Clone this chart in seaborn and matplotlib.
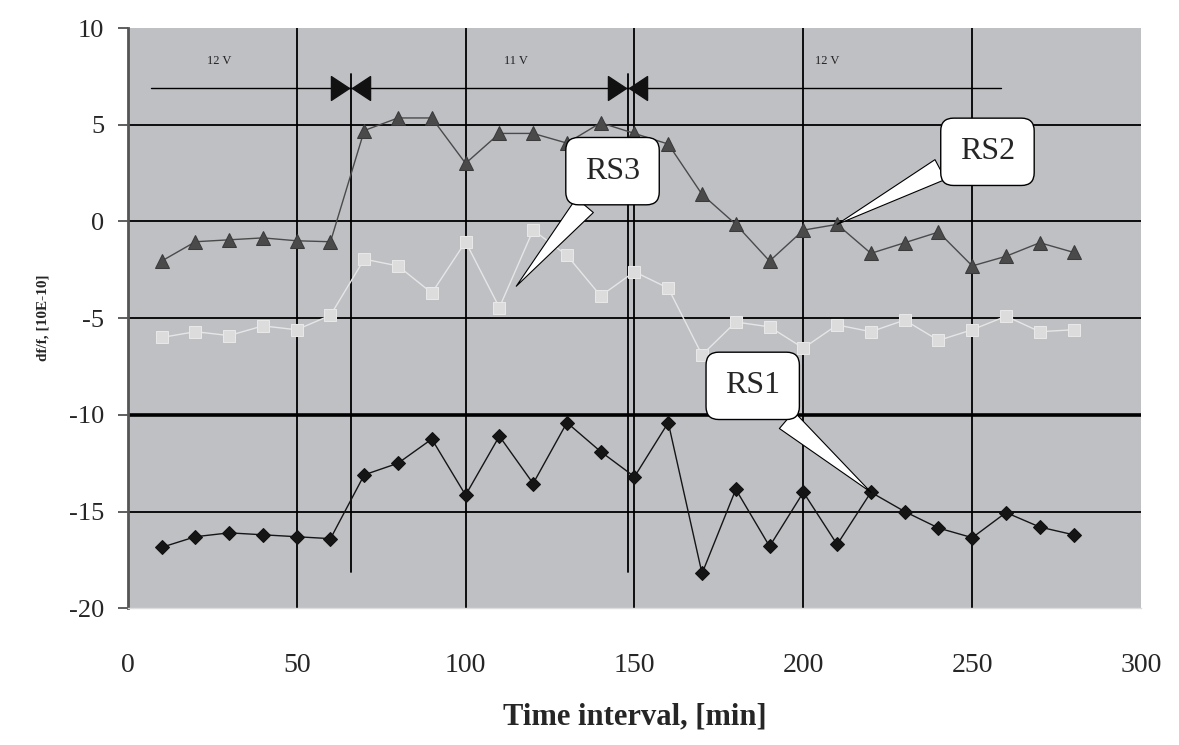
import matplotlib
matplotlib.use("Agg")
import matplotlib.pyplot as plt
import seaborn as sns
import pandas as pd

# time axis [min]
time = [10, 20, 30, 40, 50, 60, 70, 80, 90, 100, 110, 120, 130, 140,
        150, 160, 170, 180, 190, 200, 210, 220, 230, 240, 250, 260, 270, 280]

# df/f, [10E-10]
rs1 = [-16.85, -16.3, -16.1, -16.2, -16.3, -16.4, -13.1, -12.5, -11.25, -14.15,
       -11.1, -13.55, -10.4, -11.9, -13.2, -10.4, -18.2, -13.85, -16.8, -14.0,
       -16.7, -14.0, -15.0, -15.85, -16.35, -15.05, -15.8, -16.2]
rs2 = [-2.05, -1.05, -0.95, -0.85, -1.0, -1.05, 4.7, 5.35, 5.35, 3.0,
       4.55, 4.55, 4.05, 5.1, 4.55, 4.0, 1.4, -0.15, -2.05, -0.45,
       -0.15, -1.65, -1.1, -0.55, -2.3, -1.8, -1.1, -1.6]
rs3 = [-6.0, -5.7, -5.9, -5.4, -5.6, -4.85, -1.95, -2.3, -3.7, -1.05,
       -4.45, -0.45, -1.75, -3.85, -2.6, -3.45, -6.9, -5.2, -5.45, -6.55,
       -5.35, -5.7, -5.1, -6.15, -5.6, -4.9, -5.7, -5.6]

df = pd.DataFrame({"time": time, "RS1": rs1, "RS2": rs2, "RS3": rs3})

# supply voltage periods
volt_labels = ["12 V", "11 V", "12 V"]
volt_label_x = [27, 115, 207]
switch_times = [66, 148]

sns.set_theme(style="white")
plt.rcParams["font.family"] = ["Liberation Serif", "DejaVu Serif"]
plt.rcParams["axes.unicode_minus"] = False

fig = plt.figure(figsize=(11.79, 7.45), dpi=100)
ax = fig.add_axes([0.1084, 0.1835, 0.8595, 0.7789])
ax.set_facecolor("#bfc0c4")

ax.set_xlim(0, 300)
ax.set_ylim(-20, 10)

# grid
for gx in [50, 100, 150, 200, 250]:
    ax.axvline(gx, color="black", lw=1.3, zorder=1)
for gy in [5, 0, -5, -15]:
    ax.axhline(gy, color="black", lw=1.3, zorder=1)
ax.axhline(-10, color="black", lw=2.6, zorder=1)

sns.lineplot(data=df, x="time", y="RS2", ax=ax, color="#4a4a4a", lw=1.0,
             marker="^", markersize=10, markeredgecolor="#3a3a3a", zorder=4)
sns.lineplot(data=df, x="time", y="RS3", ax=ax, color="#e6e6e6", lw=1.0,
             marker="s", markersize=8, markerfacecolor="#dcdcdc",
             markeredgecolor="#e8e8e8", zorder=3)
sns.lineplot(data=df, x="time", y="RS1", ax=ax, color="#151515", lw=1.0,
             marker="D", markersize=7.5, markeredgecolor="#101010", zorder=4)

# voltage marks
ax.plot([7, 258.5], [6.9, 6.9], color="black", lw=1.0, zorder=2)
for st in switch_times:
    ax.plot([st, st], [7.6, -18.1], color="black", lw=1.3, zorder=2)
    ax.plot(st - 0.4, 6.9, marker=[(0, 0), (-1, 0.66), (-1, -0.66), (0, 0)],
            markersize=26, color="#111111", zorder=5)
    ax.plot(st + 0.4, 6.9, marker=[(0, 0), (1, 0.66), (1, -0.66), (0, 0)],
            markersize=26, color="#111111", zorder=5)
for lbl, lx in zip(volt_labels, volt_label_x):
    ax.text(lx, 8.3, lbl, fontsize=9, ha="center", va="center", color="#222222")

# callouts
def callout(text, tip, box_xy, relpos):
    ax.annotate(text, xy=tip, xytext=box_xy, textcoords="data",
                fontsize=23, ha="center", va="center", zorder=6,
                bbox=dict(boxstyle="round,pad=0.6,rounding_size=0.4",
                          fc="white", ec="black", lw=1.0),
                arrowprops=dict(arrowstyle="wedge,tail_width=0.7",
                                fc="white", ec="black", lw=0.8,
                                relpos=relpos, shrinkA=0, shrinkB=0))

callout("RS3", (115, -3.35), (143.5, 2.6), (0.3, 0.0))
callout("RS2", (time[20], rs2[20]), (254.5, 3.6), (0.0, 0.25))
callout("RS1", (time[21], rs1[21]), (185, -8.5), (0.7, 0.0))

ax.set_xticks([0, 50, 100, 150, 200, 250, 300])
ax.set_yticks([-20, -15, -10, -5, 0, 5, 10])
ax.tick_params(axis="x", length=0, pad=32, labelsize=20)
ax.tick_params(axis="y", length=7, width=1.2, pad=10, labelsize=19,
               left=True, color="#444444")

for side in ["top", "right"]:
    ax.spines[side].set_visible(False)
ax.spines["left"].set_color("#555555")
ax.spines["left"].set_linewidth(2)
ax.spines["bottom"].set_color("#dddddd")
ax.spines["bottom"].set_linewidth(1)

ax.set_xlabel("Time interval, [min]", fontsize=22, fontweight="bold", labelpad=18)
ax.set_ylabel("df/f, [10E-10]", fontsize=11, fontweight="bold", labelpad=14)

fig.savefig("out.png", dpi=100)
